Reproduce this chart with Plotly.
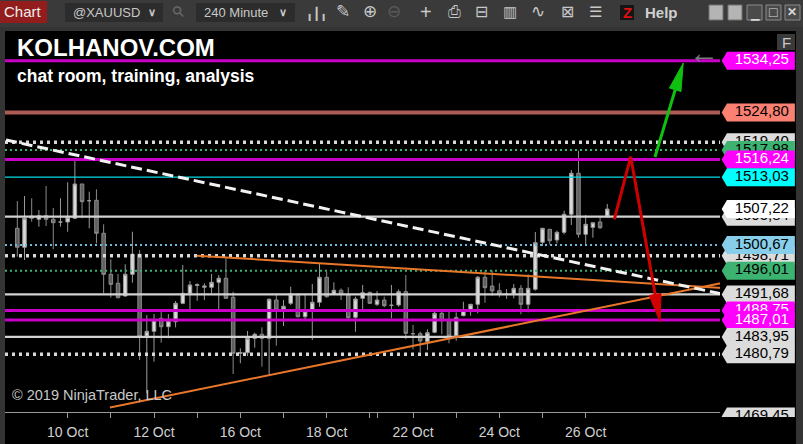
import math
import plotly.graph_objects as go

# ---------------- data ----------------
bars = list(range(1, 84))
opens = [1503.72,1500.26,1505.96,1505.36,1506.02,1505.36,1504.87,1504.87,1505.54,1511.79,
         1508.75,1508.82,1502.81,1495.34,1493.71,1491.39,1495.34,1498.99,1484.11,1484.96,
         1487.33,1485.80,1486.71,1490.06,1491.88,1493.30,1492.98,1492.98,1493.89,1494.62,
         1491.16,1480.96,1481.07,1483.69,1484.42,1483.69,1490.66,1489.02,1490.06,1491.70,
         1487.62,1488.66,1490.25,1494.80,1491.76,1492.43,1491.57,1487.51,1490.97,1492.06,
         1489.88,1490.66,1489.70,1489.75,1492.18,1484.53,1484.53,1483.07,1484.78,1488.24,
         1487.02,1484.16,1487.81,1488.84,1489.88,1494.80,1493.21,1492.36,1491.76,1491.76,
         1492.79,1489.88,1492.61,1501.17,1503.54,1501.59,1502.99,1506.27,1513.74,1502.63,
         1503.90,1504.87,1505.96]
highs = [1508.69,1509.60,1509.19,1507.05,1511.43,1507.42,1509.19,1512.10,1516.47,1511.79,
         1510.39,1510.82,1504.45,1498.08,1495.40,1497.17,1503.10,1499.77,1487.93,1488.11,
         1488.84,1488.11,1490.48,1497.04,1494.12,1493.71,1493.71,1495.40,1495.22,1498.26,
         1492.18,1481.87,1485.02,1484.71,1485.69,1490.97,1491.57,1490.66,1493.09,1491.80,
         1491.57,1493.58,1497.35,1495.82,1493.89,1492.79,1492.98,1491.27,1493.40,1492.18,
         1492.30,1491.27,1493.40,1492.61,1495.22,1486.11,1484.89,1485.33,1488.84,1488.72,
         1488.97,1488.42,1490.35,1489.95,1495.03,1496.00,1496.00,1493.71,1492.67,1493.58,
         1493.40,1495.34,1503.05,1503.72,1503.54,1503.28,1506.93,1514.34,1517.85,1506.14,
         1504.74,1505.96,1508.15]
lows = [1498.55,1497.95,1504.92,1504.01,1504.14,1499.90,1504.01,1503.10,1505.40,1505.54,
        1503.72,1500.99,1491.88,1491.08,1490.97,1491.30,1493.81,1479.74,1473.67,1479.43,
        1482.89,1483.69,1485.69,1489.90,1488.66,1490.54,1490.66,1491.88,1488.84,1490.90,
        1477.19,1479.14,1480.47,1481.98,1478.52,1477.00,1482.34,1485.93,1489.75,1487.50,
        1487.15,1483.38,1489.44,1491.08,1491.70,1490.66,1486.89,1484.89,1488.84,1489.94,
        1489.57,1489.33,1487.33,1489.44,1483.51,1481.69,1481.07,1481.56,1484.60,1484.42,
        1482.78,1483.25,1487.70,1487.81,1488.24,1490.17,1491.45,1491.16,1490.85,1490.97,
        1488.06,1488.42,1492.36,1500.50,1500.81,1500.99,1502.63,1504.32,1502.01,1500.81,
        1502.01,1503.59,1505.65]
closes = [1500.26,1505.54,1505.54,1506.02,1505.36,1504.74,1504.87,1505.73,1511.79,1508.57,
          1508.75,1502.81,1495.34,1493.52,1491.08,1495.34,1498.99,1483.98,1484.96,1487.02,
          1485.80,1486.89,1490.06,1491.88,1493.40,1493.45,1493.21,1493.89,1494.62,1490.97,
          1480.96,1481.10,1483.69,1484.42,1483.69,1490.79,1488.84,1489.52,1491.76,1487.62,
          1488.66,1490.25,1494.80,1491.27,1492.43,1491.76,1487.44,1490.85,1491.99,1490.06,
          1490.66,1489.63,1489.70,1492.18,1484.60,1484.53,1483.20,1484.71,1488.24,1486.89,
          1484.11,1487.44,1488.72,1489.88,1494.80,1492.91,1492.30,1491.76,1491.76,1492.79,
          1489.88,1492.79,1501.10,1503.72,1501.46,1502.99,1506.27,1513.74,1502.63,1504.45,
          1504.74,1503.83,1507.22]

tick_bars = [8, 14, 20, 26, 32, 38, 44, 50, 51, 56, 62, 68, 74, 80]
tick_labels = ["10 Oct", "", "12 Oct", "", "16 Oct", "", "18 Oct", "", "", "22 Oct", "", "24 Oct", "", "26 Oct"]
price_ticks = [1475, 1510, 1530]

# horizontal levels
level_prices = [1534.25, 1524.80, 1519.40, 1517.98, 1516.24, 1513.03, 1505.84,
                1500.67, 1498.71, 1496.01, 1491.68, 1488.75, 1487.01, 1483.95, 1480.79]
level_kinds = ["magenta", "salmon", "wdot", "gdot", "magenta", "cyan", "gray",
               "bdot", "wdot", "gdot", "gray", "magenta", "magenta", "gray", "wdot"]

# price labels on the axis (draw order)
label_prices = [1519.40, 1517.98, 1534.25, 1524.80, 1516.24, 1513.03, 1505.84,
                1498.71, 1500.67, 1496.01, 1491.68, 1488.75, 1487.01, 1483.95,
                1480.79, 1469.45, 1507.22]
label_kinds = ["gray", "green", "magenta", "salmon", "magenta", "cyan", "gray",
               "gray", "sky", "green", "gray", "magenta", "magenta", "gray",
               "gray", "gray", "white"]

# trend lines (bar index, price)
white_trend_x = [-0.57, 98.94]
white_trend_y = [1519.80, 1491.76]
orange_low_x = [13.88, 98.94]
orange_low_y = [1471.09, 1493.76]
orange_up_x = [25.93, 98.94]
orange_up_y = [1498.73, 1492.85]
red_arrow_x = [83.98, 86.26, 90.33]
red_arrow_y = [1505.36, 1516.76, 1486.66]
green_arrow_x = [89.63, 93.56]
green_arrow_y = [1516.70, 1533.83]

# ---------------- geometry / style ----------------
W, H = 803, 444
X_RANGE = [-0.71, 99.64]
Y_RANGE = [1470.27, 1539.65]
PLOT_L, PLOT_R, PLOT_T, PLOT_B = 5, 727, 31, 412
LBL_L, LBL_R, LBL_B = 720, 796, 417
X_PX = (PLOT_R - PLOT_L) / (X_RANGE[1] - X_RANGE[0])
Y_PX = (PLOT_B - PLOT_T) / (Y_RANGE[1] - Y_RANGE[0])
Y2_RANGE = [Y_RANGE[0] - (LBL_B - PLOT_B) / Y_PX, Y_RANGE[1]]
LINE_END = X_RANGE[0] + (721.7 - PLOT_L) / X_PX

def px(x):
    return x / W

def py(y):
    return 1 - y / H

FONT = "Liberation Sans, Arial, sans-serif"

level_style = {
    "magenta": dict(color="#c800c8", width=3, dash="solid"),
    "salmon": dict(color="#ad5c55", width=4, dash="solid"),
    "wdot": dict(color="#d8d8d8", width=3.5, dash="3px,4px"),
    "gdot": dict(color="#3cb371", width=2, dash="2px,3px"),
    "bdot": dict(color="#6fb8d8", width=2, dash="2px,3px"),
    "cyan": dict(color="#00dce6", width=1.2, dash="solid"),
    "gray": dict(color="#d2d2d2", width=2.2, dash="solid"),
}
label_style = {
    "gray": ("#dcdcdc", "#000000"),
    "green": ("#3cb371", "#000000"),
    "magenta": ("#ff00ff", "#ffffff"),
    "salmon": ("#fa8072", "#000000"),
    "cyan": ("#00ffff", "#000000"),
    "sky": ("#87ceeb", "#000000"),
    "white": ("#ffffff", "#000000"),
}

fig = go.Figure()

fig.add_trace(go.Candlestick(
    x=bars, open=opens, high=highs, low=lows, close=closes,
    increasing=dict(line=dict(color="#9a9a9a", width=1), fillcolor="#dadada"),
    decreasing=dict(line=dict(color="#8a8a8a", width=1), fillcolor="#5f5f5f"),
    whiskerwidth=0, hoverinfo="skip", xaxis="x", yaxis="y"))

for p, k in zip(level_prices, level_kinds):
    st = level_style[k]
    fig.add_trace(go.Scatter(x=[X_RANGE[0], LINE_END], y=[p, p], mode="lines",
                             line=dict(color=st["color"], width=st["width"], dash=st["dash"]),
                             hoverinfo="skip", xaxis="x", yaxis="y"))

fig.add_trace(go.Scatter(x=orange_up_x, y=orange_up_y, mode="lines",
                         line=dict(color="#e8772a", width=2), hoverinfo="skip"))
fig.add_trace(go.Scatter(x=orange_low_x, y=orange_low_y, mode="lines",
                         line=dict(color="#e8772a", width=2), hoverinfo="skip"))
fig.add_trace(go.Scatter(x=white_trend_x, y=white_trend_y, mode="lines",
                         line=dict(color="#f2f2f2", width=3, dash="11px,5px"), hoverinfo="skip"))


def arrow(xs, ys, color):
    x0, y0, x1, y1 = xs[-2], ys[-2], xs[-1], ys[-1]
    dx, dy = (x1 - x0) * X_PX, (y1 - y0) * Y_PX
    n = math.hypot(dx, dy)
    ux, uy = dx / n, dy / n
    L, Wd = 28, 6
    bx, by = x1 - L * ux / X_PX, y1 - L * uy / Y_PX
    c1x, c1y = bx - Wd * uy / X_PX, by + Wd * ux / Y_PX
    c2x, c2y = bx + Wd * uy / X_PX, by - Wd * ux / Y_PX
    fig.add_trace(go.Scatter(x=list(xs[:-1]) + [bx], y=list(ys[:-1]) + [by], mode="lines",
                             line=dict(color=color, width=3), hoverinfo="skip"))
    fig.add_trace(go.Scatter(x=[x1, c1x, c2x, x1], y=[y1, c1y, c2y, y1], mode="lines",
                             fill="toself", fillcolor=color, line=dict(color=color, width=1),
                             hoverinfo="skip"))


arrow(red_arrow_x, red_arrow_y, "#d00000")
arrow(green_arrow_x, green_arrow_y, "#10c010")

# price labels on right axis panel (x2/y2)
half_h = 9 / Y_PX
tip, body_l, body_r = 0.022, 0.092, 0.985
for p, k in zip(label_prices, label_kinds):
    bg, fg = label_style[k]
    fig.add_trace(go.Scatter(
        x=[tip, body_l, body_r, body_r, body_l, tip],
        y=[p, p + half_h, p + half_h, p - half_h, p - half_h, p],
        mode="lines", fill="toself", fillcolor=bg, line=dict(width=0, color=bg),
        hoverinfo="skip", xaxis="x2", yaxis="y2"))
    fig.add_trace(go.Scatter(
        x=[0.55], y=[p], mode="text", text=[f"{p:.2f}".replace(".", ",")],
        textposition="middle center", textfont=dict(family=FONT, size=15, color=fg),
        hoverinfo="skip", xaxis="x2", yaxis="y2", cliponaxis=True))

shapes = [
    dict(type="rect", xref="paper", yref="paper", x0=px(5), x1=px(796), y0=0, y1=py(31),
         fillcolor="#000000", line=dict(width=0), layer="below"),
    # cover below the price-label panel (clips the bottom label)
    dict(type="rect", xref="paper", yref="paper", x0=px(728), x1=px(796), y0=0, y1=py(LBL_B),
         fillcolor="#000000", line=dict(width=0), layer="above"),
    # toolbar
    dict(type="rect", xref="paper", yref="paper", x0=0, x1=px(803), y0=py(27), y1=1,
         fillcolor="#3a3a3a", line=dict(width=0), layer="below"),
    dict(type="rect", xref="paper", yref="paper", x0=0, x1=px(47), y0=py(23), y1=py(1),
         fillcolor="#931d1d", line=dict(width=0), layer="below"),
    dict(type="rect", xref="paper", yref="paper", x0=px(65), x1=px(163), y0=py(22), y1=py(3),
         fillcolor="#2c2c2c", line=dict(width=0), layer="below"),
    dict(type="rect", xref="paper", yref="paper", x0=px(196), x1=px(295), y0=py(22), y1=py(3),
         fillcolor="#2c2c2c", line=dict(width=0), layer="below"),
    dict(type="rect", xref="paper", yref="paper", x0=px(620), x1=px(634), y0=py(20), y1=py(5),
         fillcolor="#151515", line=dict(width=0), layer="below"),
    dict(type="rect", xref="paper", yref="paper", x0=px(709), x1=px(723), y0=py(20), y1=py(5),
         fillcolor="#b4b4b4", line=dict(color="#707070", width=1), layer="below"),
    dict(type="rect", xref="paper", yref="paper", x0=px(728), x1=px(742), y0=py(20), y1=py(5),
         fillcolor="#b4b4b4", line=dict(color="#707070", width=1), layer="below"),
    dict(type="rect", xref="paper", yref="paper", x0=px(747), x1=px(762), y0=py(20), y1=py(5),
         fillcolor="#4a4a4a", line=dict(color="#8a8a8a", width=1), layer="below"),
    dict(type="rect", xref="paper", yref="paper", x0=px(766), x1=px(781), y0=py(20), y1=py(5),
         fillcolor="#4a4a4a", line=dict(color="#8a8a8a", width=1), layer="below"),
    dict(type="rect", xref="paper", yref="paper", x0=px(785), x1=px(800), y0=py(20), y1=py(5),
         fillcolor="#4a4a4a", line=dict(color="#8a8a8a", width=1), layer="below"),
    # F button
    dict(type="rect", xref="paper", yref="paper", x0=px(777), x1=px(795), y0=py(50), y1=py(34),
         fillcolor="#3a3a3a", line=dict(width=0), layer="above"),
]


def ann(x, y, text, size=13, color="#c8c8c8", family=FONT, xanchor="center", bold=False, angle=0):
    t = f"<b>{text}</b>" if bold else text
    return dict(x=px(x), y=py(y), xref="paper", yref="paper", text=t, showarrow=False,
                xanchor=xanchor, yanchor="middle", textangle=angle,
                font=dict(family=family, size=size, color=color))


annotations = [
    ann(23, 12, "Chart", 15, "#eeeeee"),
    ann(71, 12.5, "@XAUUSD", 13, "#c8c8c8", xanchor="left"),
    ann(152, 12, "∨", 11, "#c8c8c8", bold=True),
    ann(178, 12, "⚲", 15, "#6a6a6a", angle=-45),
    ann(202, 12.5, "240 Minute", 13, "#c8c8c8", xanchor="left"),
    ann(283, 12, "∨", 11, "#c8c8c8", bold=True),
    ann(316, 13, "╻┃╻", 12, "#c8c8c8"),
    ann(343, 12, "✎", 17, "#c8c8c8"),
    ann(370, 12, "⊕", 17, "#c8c8c8"),
    ann(394, 12, "⊖", 17, "#5a5a5a"),
    ann(426, 12, "+", 20, "#c8c8c8"),
    ann(454, 12, "⎙", 16, "#c8c8c8"),
    ann(482, 12, "⊟", 16, "#c8c8c8"),
    ann(510, 12, "▥", 15, "#c8c8c8"),
    ann(538, 12, "∿", 17, "#c8c8c8"),
    ann(567, 12, "⊠", 16, "#c8c8c8"),
    ann(595, 12, "☰", 15, "#c8c8c8"),
    ann(627, 12.5, "Z", 15, "#e01010", bold=True),
    ann(661, 12.5, "Help", 15, "#d0d0d0", bold=True),
    ann(755, 14, "▁", 11, "#d8d8d8"),
    ann(773, 12.5, "□", 14, "#d8d8d8"),
    ann(792, 12.5, "✕", 12, "#d8d8d8", bold=True),
    ann(786, 42, "F", 15, "#c8c8c8"),
    ann(704, 52, "←", 30, "#7a7a7a"),
    ann(15, 47, "KOLHANOV.COM", 24, "#ffffff", xanchor="left", bold=True),
    ann(15, 76, "chat room, training, analysis", 17.5, "#ffffff", xanchor="left", bold=True),
    ann(10, 395, "© 2019 NinjaTrader, LLC", 14.5, "#c8c8c8", xanchor="left"),
]

fig.update_layout(
    width=W, height=H, autosize=False,
    margin=dict(l=0, r=0, t=0, b=0, pad=0),
    paper_bgcolor="#343434", plot_bgcolor="#000000",
    showlegend=False, hovermode=False,
    xaxis=dict(domain=[px(PLOT_L), px(PLOT_R)], range=X_RANGE, anchor="y",
               showgrid=False, zeroline=False, showline=True, linecolor="#9a9a9a", linewidth=1,
               ticks="outside", ticklen=5, tickcolor="#9a9a9a",
               tickvals=tick_bars, ticktext=tick_labels, ticklabelstandoff=2,
               tickfont=dict(family=FONT, size=14, color="#d0d0d0"),
               rangeslider=dict(visible=False), fixedrange=True),
    yaxis=dict(domain=[py(PLOT_B), py(PLOT_T)], range=Y_RANGE, anchor="x", side="right",
               showgrid=False, zeroline=False, showline=True, linecolor="#9a9a9a", linewidth=1,
               ticks="outside", ticklen=4, tickcolor="#9a9a9a",
               tickvals=price_ticks, ticktext=[f"{v:.2f}".replace(".", ",") for v in price_ticks],
               tickfont=dict(family=FONT, size=15, color="#d0d0d0"), fixedrange=True),
    xaxis2=dict(domain=[px(LBL_L), px(LBL_R)], range=[0, 1], anchor="y2", visible=False,
                fixedrange=True),
    yaxis2=dict(domain=[py(LBL_B), py(PLOT_T)], range=Y2_RANGE, anchor="x2", visible=False,
                fixedrange=True),
    shapes=shapes, annotations=annotations,
)

fig.write_html("out.html", config=dict(displayModeBar=False),
               post_script="document.body.style.margin='0';document.body.style.overflow='hidden';")
